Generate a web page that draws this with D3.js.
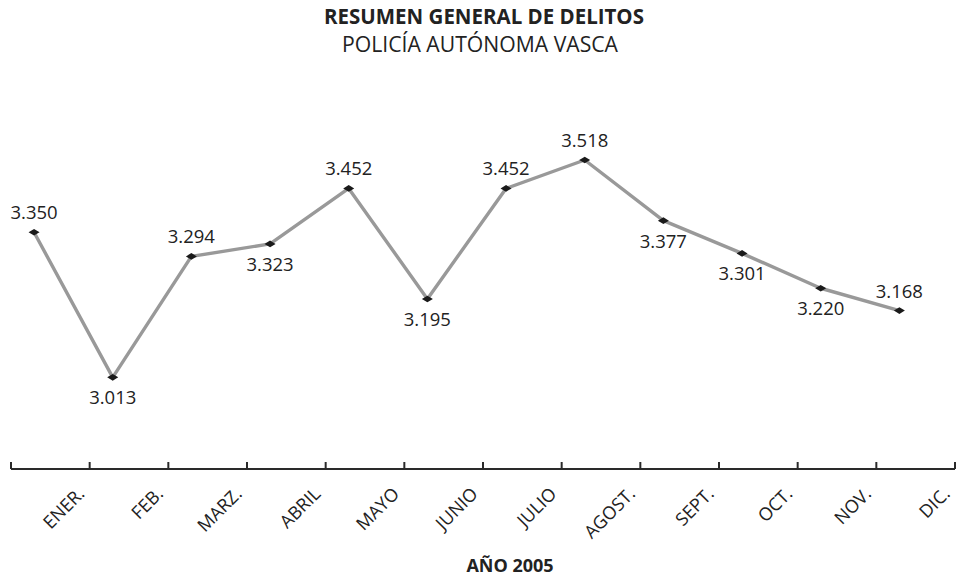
<!DOCTYPE html>
<html>
<head>
<meta charset="utf-8">
<script src="https://cdn.jsdelivr.net/npm/d3@7"></script>
<style>
  html, body { margin: 0; padding: 0; background: #fff; }
  svg { display: block; font-family: "Open Sans", "Noto Sans", sans-serif; }
</style>
</head>
<body>
<svg id="chart" width="957" height="582"></svg>
<script>
// Monthly crime totals, Ertzaintza, 2005
const months = ["ENER.", "FEB.", "MARZ.", "ABRIL", "MAYO", "JUNIO", "JULIO", "AGOST.", "SEPT.", "OCT.", "NOV.", "DIC."];
const delitos = [3350, 3013, 3294, 3323, 3452, 3195, 3452, 3518, 3377, 3301, 3220, 3168];
// which side of the point each value label sits on
const labelSide = ["above", "below", "above", "below", "above", "below", "above", "above", "below", "below", "below", "above"];
const titleLines = ["RESUMEN GENERAL DE DELITOS", "POLICÍA AUTÓNOMA VASCA"];
const axisTitle = "AÑO 2005";

const svg = d3.select("#chart");

const axisY = 469;
const x = d3.scaleBand().domain(months).range([11, 955]).padding(0);
const y = d3.scaleLinear().domain([2800, 3600]).range([axisY, 124.7]);
const px = m => x(m) + x.bandwidth() * 0.293;

const fmt = v => d3.format(",")(v).replace(/,/g, ".");

// titles
const t1 = svg.append("text")
  .attr("x", 484).attr("y", 24)
  .attr("text-anchor", "middle")
  .attr("font-weight", "bold").attr("font-size", 19)
  .attr("fill", "#222")
  .text(titleLines[0]);
const t2 = svg.append("text")
  .attr("x", 480).attr("y", 51.5)
  .attr("text-anchor", "middle")
  .attr("font-size", 19)
  .attr("fill", "#222")
  .text(titleLines[1]);
// fit the titles to their set widths
[[t1, 320], [t2, 276]].forEach(([t, w]) => {
  const len = t.node().getComputedTextLength();
  const fs = +t.attr("font-size");
  t.attr("font-size", (fs * w / len).toFixed(2));
});

// category axis: line with ticks at band boundaries
const tickPos = months.map(m => x(m)).concat([x.range()[1]]);
svg.append("line")
  .attr("x1", x.range()[0]).attr("x2", x.range()[1])
  .attr("y1", axisY).attr("y2", axisY)
  .attr("stroke", "#2a2a2a").attr("stroke-width", 2);
svg.selectAll("line.tick").data(tickPos).join("line")
  .attr("class", "tick")
  .attr("x1", d => d).attr("x2", d => d)
  .attr("y1", axisY).attr("y2", axisY - 7)
  .attr("stroke", "#2a2a2a").attr("stroke-width", 2);

svg.selectAll("text.month").data(months).join("text")
  .attr("class", "month")
  .attr("transform", m => `translate(${x(m) + x.bandwidth() - 4},${495}) rotate(-45)`)
  .attr("text-anchor", "end")
  .attr("font-size", 18)
  .attr("fill", "#222")
  .text(m => m);

svg.append("text")
  .attr("x", 510).attr("y", 572)
  .attr("text-anchor", "middle")
  .attr("font-weight", "bold").attr("font-size", 18)
  .attr("fill", "#222")
  .text(axisTitle);

// series line
const line = d3.line().x((d, i) => px(months[i])).y(d => y(d));
svg.append("path")
  .datum(delitos)
  .attr("d", line)
  .attr("fill", "none")
  .attr("stroke", "#999")
  .attr("stroke-width", 3.4)
  .attr("stroke-linejoin", "round");

// diamond markers
svg.selectAll("path.marker").data(delitos).join("path")
  .attr("class", "marker")
  .attr("transform", (d, i) => `translate(${px(months[i])},${y(d)})`)
  .attr("d", "M-5.5,0L0,-3.3L5.5,0L0,3.3Z")
  .attr("fill", "#1a1a1a");

// value labels
svg.selectAll("text.value").data(delitos).join("text")
  .attr("class", "value")
  .attr("x", (d, i) => px(months[i]))
  .attr("y", (d, i) => y(d) + (labelSide[i] === "above" ? -13 : 27))
  .attr("text-anchor", "middle")
  .attr("font-size", 18.5)
  .attr("fill", "#222")
  .text(d => fmt(d));
</script>
</body>
</html>
